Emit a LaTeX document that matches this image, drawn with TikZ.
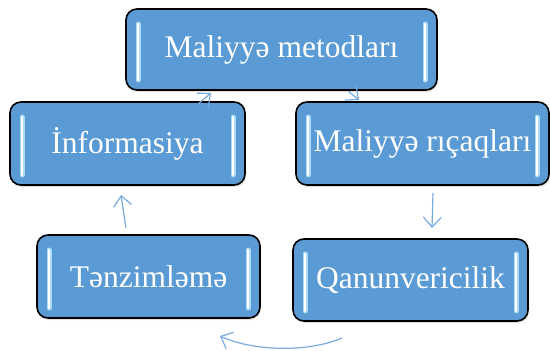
\documentclass[tikz,border=0pt]{standalone}
\usepackage{fontspec}
\setmainfont{Liberation Serif}
\usetikzlibrary{arrows.meta,shadows}
\definecolor{boxblue}{RGB}{91,155,213}
\definecolor{arrowblue}{RGB}{120,172,222}
\definecolor{glow}{RGB}{170,220,250}
\tikzset{
  mbox/.style={draw=black, line width=1.6pt, rounded corners=11pt, fill=boxblue,
    text=white, font=\fontsize{31.5}{36}\selectfont, inner sep=0pt,
    drop shadow={opacity=0.25, shadow xshift=1pt, shadow yshift=-2pt},
    path picture={
      \foreach \w/\c in {5pt/glow, 2pt/white}{
      \draw[\c, line width=\w, line cap=round]
        ([xshift=12pt,yshift=-15pt]path picture bounding box.north west) --
        ([xshift=12pt,yshift=10pt]path picture bounding box.south west);
      \draw[\c, line width=\w, line cap=round]
        ([xshift=-12pt,yshift=-15pt]path picture bounding box.north east) --
        ([xshift=-12pt,yshift=10pt]path picture bounding box.south east);
      }
    }},
  conn/.style={draw=arrowblue, line width=1.2pt, -{Straight Barb[length=10pt,width=18pt]}}
}
\begin{document}
\begin{tikzpicture}[x=1pt,y=-1pt]
\useasboundingbox (0,0) rectangle (550,351);
\node[mbox, minimum width=311pt, minimum height=81pt] (top) at (281.5,49.5) {Maliyyə metodları};
\node[mbox, minimum width=235pt, minimum height=83pt] (info) at (127.5,143.5) {İnformasiya};
\node[mbox, minimum width=253pt, minimum height=83pt] (lev) at (422.5,143.5) {Maliyyə rıçaqları};
\node[mbox, minimum width=223pt, minimum height=83pt] (ten) at (148.5,276.5) {Tənzimləmə};
\node[mbox, minimum width=235pt, minimum height=82pt] (qan) at (410.5,280) {Qanunvericilik};
\coordinate (a1s) at (198,104); \coordinate (a1e) at (211,93);
\coordinate (a2s) at (348,91);  \coordinate (a2e) at (359,100);
\coordinate (a3s) at (433,193); \coordinate (a3e) at (432,228);
\coordinate (a4s) at (126,228); \coordinate (a4e) at (121,195);
\coordinate (a5s) at (342,338); \coordinate (a5e) at (220,336);
\draw[conn] (a1s) -- (a1e);
\draw[conn] (a2s) -- (a2e);
\draw[conn] (a3s) -- (a3e);
\draw[conn] (a4s) -- (a4e);
\draw[conn] (a5s) .. controls (310,352) and (255,352) .. (a5e);
\end{tikzpicture}
\end{document}
